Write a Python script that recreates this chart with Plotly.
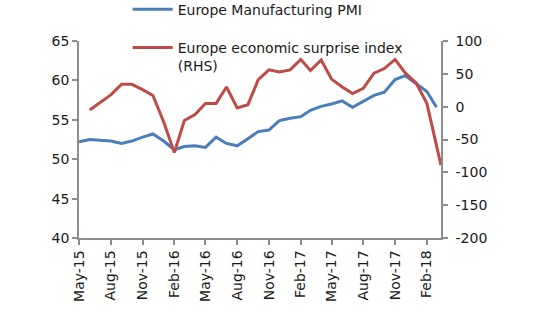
import pandas as pd
import plotly.graph_objects as go

pmi_dates = pd.date_range("2015-05-01", "2018-03-01", freq="MS")
pmi_values = [52.2, 52.5, 52.4, 52.3, 52.0, 52.3, 52.8, 53.2, 52.3, 51.2, 51.6, 51.7,
              51.5, 52.8, 52.0, 51.7, 52.6, 53.5, 53.7, 54.9, 55.2, 55.4, 56.2, 56.7,
              57.0, 57.4, 56.6, 57.4, 58.1, 58.5, 60.1, 60.6, 59.6, 58.6, 56.6]

surprise_dates = list(pd.date_range("2015-06-01", "2018-02-01", freq="MS")) + [pd.Timestamp("2018-03-14")]
surprise_values = [-5, 7, 18, 34, 34, 26, 17, -23, -70, -21, -12, 5,
                   5, 30, -2, 3, 41, 56, 53, 56, 72, 55, 71, 42,
                   30, 20, 28, 51, 58, 72, 51, 36, 5, -89]

left_ticks = [40, 45, 50, 55, 60, 65]
right_ticks = [-200, -150, -100, -50, 0, 50, 100]
right_tick_labels = [str(v) for v in right_ticks]
x_tick_dates = pd.date_range("2015-05-01", "2018-02-01", freq="3MS")
x_tick_labels = [d.strftime("%b-%y") for d in x_tick_dates]

BLUE = "#4A7EBB"
RED = "#BE4B48"
AXIS = "#8C8C8C"
FONT = dict(family="DejaVu Sans", size=14, color="#1a1a1a")

fig = go.Figure()
fig.add_trace(go.Scatter(x=pmi_dates, y=pmi_values, mode="lines",
                         name="Europe Manufacturing PMI",
                         line=dict(color=BLUE, width=3), legendgroup="a"))
fig.add_trace(go.Scatter(x=surprise_dates, y=surprise_values, mode="lines",
                         name="Europe economic surprise index<br>(RHS)",
                         line=dict(color=RED, width=3), yaxis="y2", legendgroup="b"))

fig.update_layout(
    width=537, height=321,
    margin=dict(l=79, r=96, t=41, b=83, autoexpand=False),
    paper_bgcolor="white", plot_bgcolor="white",
    font=FONT,
    showlegend=True,
    legend=dict(x=0.1345, y=1.24, xanchor="left", yanchor="top",
                bgcolor="rgba(0,0,0,0)", traceorder="grouped", tracegroupgap=17,
                valign="top", itemwidth=40, font=FONT),
    xaxis=dict(type="date", range=["2015-05-01", "2018-03-14"],
               tickvals=x_tick_dates, ticktext=x_tick_labels, tickangle=-90,
               showline=True, linecolor=AXIS, linewidth=1.5,
               ticks="outside", ticklen=5, tickcolor=AXIS, tickwidth=1.5,
               showgrid=False, zeroline=False),
    yaxis=dict(range=[40, 65], tickvals=left_ticks,
               showline=True, linecolor=AXIS, linewidth=1.5,
               ticks="outside", ticklen=5, tickcolor=AXIS, tickwidth=1.5,
               showgrid=False, zeroline=False),
    yaxis2=dict(range=[-200, 100], tickvals=right_ticks, ticktext=right_tick_labels,
                overlaying="y", side="right", ticklabelstandoff=5,
                showline=True, linecolor=AXIS, linewidth=1.5,
                ticks="outside", ticklen=5, tickcolor=AXIS, tickwidth=1.5,
                showgrid=False, zeroline=False),
)

fig.write_html("out.html")
